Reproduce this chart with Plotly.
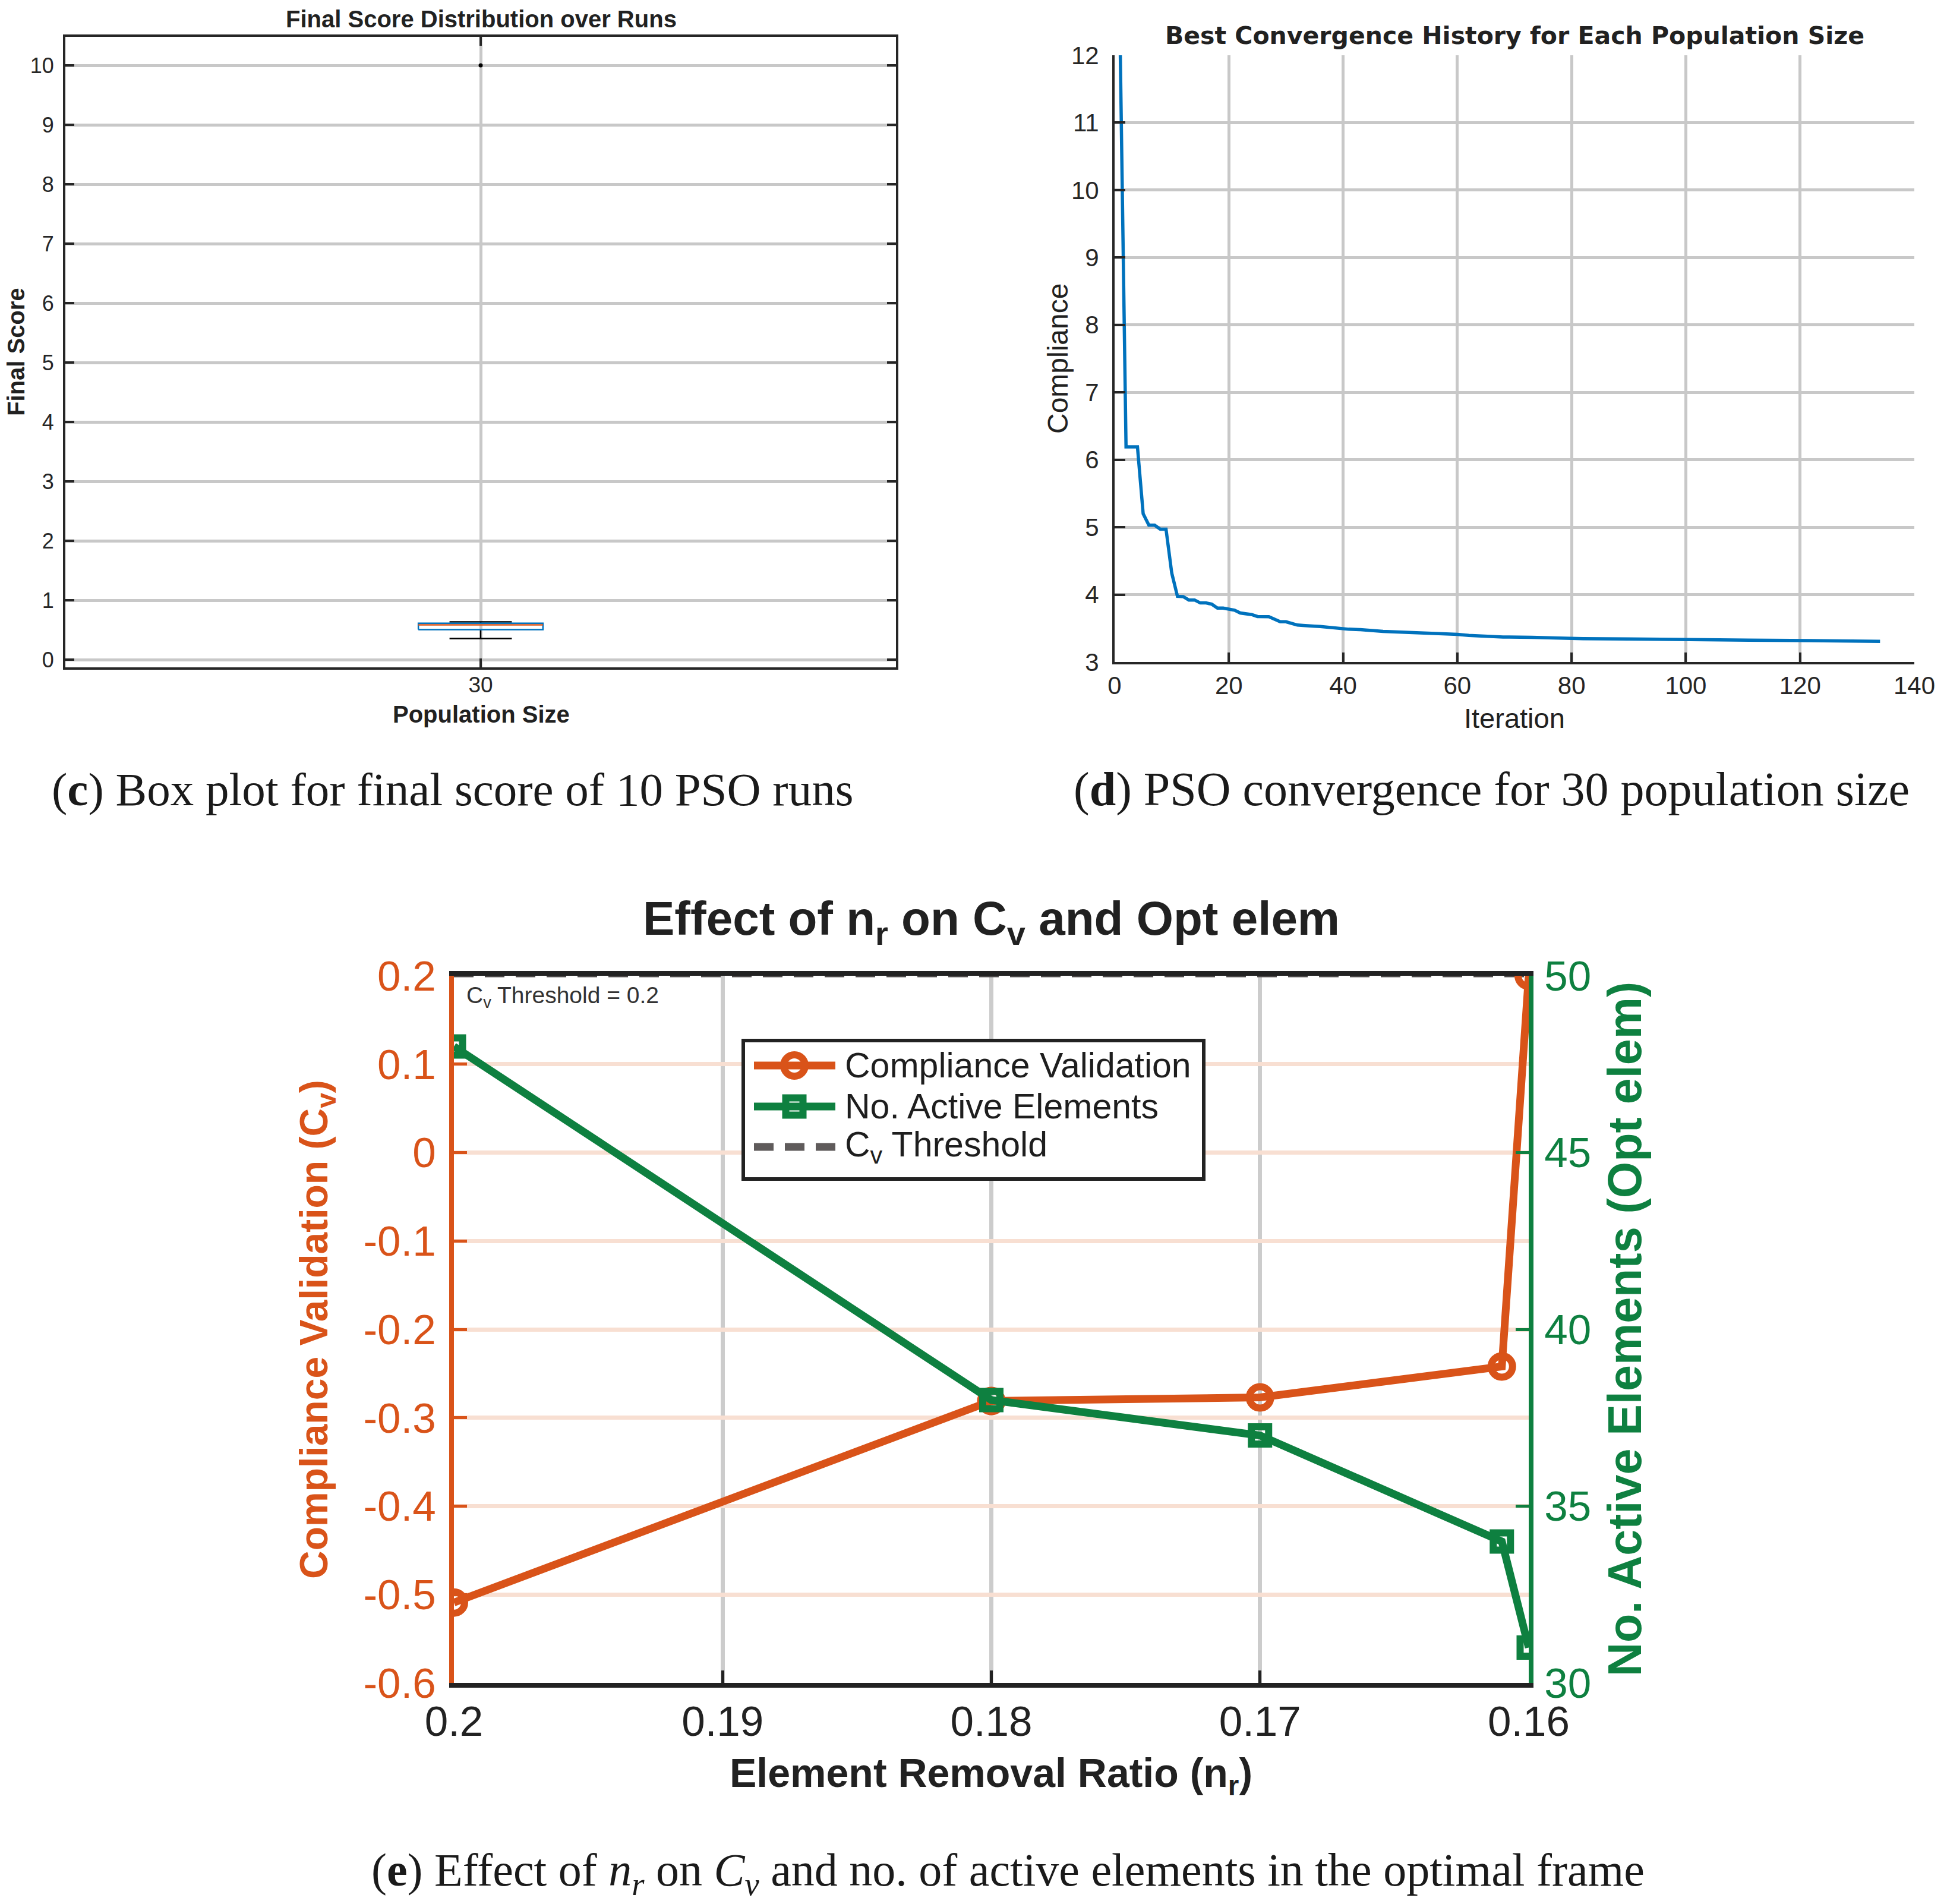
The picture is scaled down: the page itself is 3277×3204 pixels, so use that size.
import plotly.graph_objects as go

W, H = 3277, 3204


def fx(px):
    return px / W


def fy(py):
    return 1 - py / H


# ---------------- data ----------------
# (c) box plot of final scores (population size 30)
pop_labels = ["30"]
box_q1 = [0.51]
box_median = [0.59]
box_q3 = [0.617]
box_lower = [0.36]
box_upper = [0.64]
box_outliers = [10.0]

# (d) best convergence history (population 30)
conv_iter = [1, 2, 3, 4, 5, 6, 7, 8, 9, 10, 11, 12, 13, 14, 15, 16, 17, 18, 19, 20,
             21, 22, 23, 24, 25, 26, 27, 28, 29, 30, 31, 32, 33, 34, 35, 36, 37, 38, 39, 40,
             41, 43, 45, 46, 47, 51, 56, 60, 62, 65, 68, 73, 76, 82, 90, 95, 102, 111, 124, 134]
conv_value = [12.0, 6.19, 6.19, 6.19, 5.20, 5.03, 5.03, 4.97, 4.97, 4.32,
              3.975, 3.97, 3.92, 3.92, 3.876, 3.876, 3.858, 3.80, 3.80, 3.79,
              3.768, 3.727, 3.721, 3.703, 3.675, 3.675, 3.672, 3.635, 3.597, 3.597,
              3.573, 3.548, 3.542, 3.542, 3.532, 3.526, 3.517, 3.511, 3.505, 3.495,
              3.486, 3.48, 3.474, 3.461, 3.453, 3.441, 3.418, 3.41, 3.394, 3.38,
              3.371, 3.365, 3.356, 3.347, 3.341, 3.335, 3.329, 3.324, 3.315, 3.306]

# (e) effect of n_r
nr = [0.2, 0.18, 0.17, 0.161, 0.16]
cv = [-0.509, -0.281, -0.277, -0.242, 0.2]
active_elems = [48, 38, 37, 34, 31]
cv_threshold = 0.2
nr_ticks = [0.2, 0.19, 0.18, 0.17, 0.16]
nr_ticktext = ["0.2", "0.19", "0.18", "0.17", "0.16"]
cv_ticks = [0.2, 0.1, 0.0, -0.1, -0.2, -0.3, -0.4, -0.5, -0.6]
cv_ticktext = ["0.2", "0.1", "0", "-0.1", "-0.2", "-0.3", "-0.4", "-0.5", "-0.6"]
el_ticks = [30, 35, 40, 45, 50]

# ---------------- styles ----------------
SANS = "Liberation Sans, Arial, Helvetica, sans-serif"
WIDE = "DejaVu Sans, Liberation Sans, sans-serif"
SERIF = "Liberation Serif, Times New Roman, serif"
DARK = "#262626"
GRID = "#c8c8c8"
ORANGE = "#D95319"
GREEN = "#0E8040"
PEACH = "#f8dfd2"
BLUE = "#0072BD"

fig = go.Figure()

# ---------- (c) box plot built from the statistics ----------
pos = list(range(1, len(pop_labels) + 1))
bw = 0.075   # half box width (axis units)
cw = 0.0375  # half cap width
wx, wy = [], []
for p, lo, q1, q3, hi in zip(pos, box_lower, box_q1, box_q3, box_upper):
    wx += [p, p, None, p, p, None, p - cw, p + cw, None, p - cw, p + cw, None]
    wy += [q3, hi, None, q1, lo, None, hi, hi, None, lo, lo, None]
fig.add_trace(go.Scatter(x=wx, y=wy, mode="lines", line=dict(color="black", width=2.5),
                         xaxis="x", yaxis="y", showlegend=False, hoverinfo="skip"))
bx, by = [], []
for p, q1, q3 in zip(pos, box_q1, box_q3):
    bx += [p - bw, p + bw, p + bw, p - bw, p - bw, None]
    by += [q1, q1, q3, q3, q1, None]
fig.add_trace(go.Scatter(x=bx, y=by, mode="lines", line=dict(color=BLUE, width=2.5),
                         xaxis="x", yaxis="y", showlegend=False))
mx, my = [], []
for p, m in zip(pos, box_median):
    mx += [p - bw, p + bw, None]
    my += [m, m, None]
fig.add_trace(go.Scatter(x=mx, y=my, mode="lines", line=dict(color=ORANGE, width=2.5),
                         xaxis="x", yaxis="y", showlegend=False))
fig.add_trace(go.Scatter(x=[pos[0]] * len(box_outliers), y=box_outliers, mode="markers",
                         marker=dict(color="black", size=7), xaxis="x", yaxis="y",
                         showlegend=False, cliponaxis=False))

# ---------- (d) convergence ----------
fig.add_trace(go.Scatter(x=conv_iter, y=conv_value, mode="lines",
                         line=dict(color=BLUE, width=5.5), xaxis="x2", yaxis="y2",
                         showlegend=False))

# ---------- (e) effect of n_r ----------
fig.add_trace(go.Scatter(x=[nr_ticks[0], nr_ticks[-1]], y=[cv_threshold, cv_threshold],
                         mode="lines", line=dict(color="#4a4747", width=5, dash="33px,19px"),
                         xaxis="x3", yaxis="y3", showlegend=False))
fig.add_trace(go.Scatter(x=nr, y=cv, mode="lines+markers",
                         line=dict(color=ORANGE, width=13),
                         marker=dict(symbol="circle-open", size=36, color=ORANGE,
                                     line=dict(color=ORANGE, width=12)),
                         xaxis="x3", yaxis="y3", showlegend=False))
fig.add_trace(go.Scatter(x=nr, y=active_elems, mode="lines+markers",
                         line=dict(color=GREEN, width=13),
                         marker=dict(symbol="square-open", size=29, color=GREEN,
                                     line=dict(color=GREEN, width=12)),
                         xaxis="x3", yaxis="y4", showlegend=False))

common_box = dict(showline=True, linecolor=DARK, linewidth=4, ticks="inside",
                  tickcolor=DARK, tickwidth=4, showgrid=True, gridcolor=GRID,
                  gridwidth=4.5, zeroline=False, automargin=False)

fig.update_layout(
    template="none",
    width=W, height=H, margin=dict(l=0, r=0, t=0, b=0, pad=0, autoexpand=False),
    paper_bgcolor="white", plot_bgcolor="white", showlegend=False,
    xaxis=dict(domain=[fx(110), fx(1508)], range=[0.5, 1.5], tickvals=pos,
               ticktext=pop_labels, anchor="y", mirror="ticks", ticklen=15,
               tickfont=dict(family=SANS, size=37, color=DARK), ticklabelstandoff=-6,
               **common_box),
    yaxis=dict(domain=[fy(1123), fy(62)], range=[-0.125, 10.48], dtick=1, tick0=0,
               anchor="x", mirror="ticks", ticklen=15,
               tickfont=dict(family=SANS, size=36, color=DARK), ticklabelstandoff=8,
               **common_box),
    xaxis2=dict(domain=[fx(1876), fx(3222)], range=[0, 140], dtick=20, anchor="y2",
                ticklen=16, tickfont=dict(family=SANS, size=42, color=DARK),
                ticklabelstandoff=0, **common_box),
    yaxis2=dict(domain=[fy(1114), fy(93)], range=[3, 12], dtick=1, anchor="x2",
                ticklen=18, tickfont=dict(family=SANS, size=42, color=DARK),
                ticklabelstandoff=14, **common_box),
    xaxis3=dict(domain=[fx(764), fx(2573)], range=[nr_ticks[0], nr_ticks[-1]],
                tickvals=nr_ticks, ticktext=nr_ticktext, anchor="y3",
                showline=True, linecolor="#222222", linewidth=8, mirror=True,
                ticks="inside", ticklen=21, tickwidth=5, tickcolor="#222222",
                showgrid=True, gridcolor="#cccccc", gridwidth=7, zeroline=False,
                tickfont=dict(family=SANS, size=71, color="#222222"),
                ticklabelstandoff=-4, automargin=False),
    yaxis3=dict(domain=[fy(2832), fy(1642)], range=[cv_ticks[-1], cv_ticks[0]],
                tickvals=cv_ticks, ticktext=cv_ticktext, anchor="x3",
                showline=True, linecolor=ORANGE, linewidth=8,
                ticks="inside", ticklen=22, tickwidth=5, tickcolor=ORANGE,
                showgrid=True, gridcolor=PEACH, gridwidth=7, zeroline=False,
                tickfont=dict(family=SANS, size=71, color=ORANGE),
                ticklabelstandoff=8, automargin=False),
    yaxis4=dict(overlaying="y3", side="right", anchor="x3",
                range=[el_ticks[0], el_ticks[-1]], tickvals=el_ticks,
                showline=True, linecolor=GREEN, linewidth=8,
                ticks="inside", ticklen=22, tickwidth=5, tickcolor=GREEN,
                showgrid=False, zeroline=False,
                tickfont=dict(family=SANS, size=71, color=GREEN),
                ticklabelstandoff=4, automargin=False),
)

ann = []


def add_text(text, px, py, size, family=SANS, color=DARK, angle=0, xanchor="center",
             yanchor="middle"):
    ann.append(dict(text=text, x=fx(px), y=fy(py), xref="paper", yref="paper",
                    showarrow=False, font=dict(family=family, size=size, color=color),
                    textangle=angle, xanchor=xanchor, yanchor=yanchor))


# (c)
add_text("<b>Final Score Distribution over Runs</b>", 810, 32, 40, color="#212121")
add_text("<b>Final Score</b>", 27, 592, 40, color="#212121", angle=-90)
add_text("<b>Population Size</b>", 810, 1202, 40, color="#212121")
add_text("(<b>c</b>) Box plot for final score of 10 PSO runs", 761, 1328, 79,
         family=SERIF, color="#1a1a1a")
# (d)
add_text("<b>Best Convergence History for Each Population Size</b>", 2549, 60, 41,
         family=WIDE, color="#212121")
add_text("Compliance", 1780, 604, 48, color="#212121", angle=-90)
add_text("Iteration", 2549, 1208, 47, color="#212121")
add_text("(<b>d</b>) PSO convergence for 30 population size", 2510, 1328, 80,
         family=SERIF, color="#1a1a1a")
# (e)
add_text("<b>Effect of n<sub>r</sub> on C<sub>v</sub> and Opt elem</b>", 1668, 1551, 80,
         color="#212121")
add_text("<b>Compliance Validation (C<sub>v</sub>)</b>", 533, 2237, 66,
         color=ORANGE, angle=-90)
add_text("<b>No. Active Elements (Opt elem)</b>", 2734, 2237, 79,
         color=GREEN, angle=-90)
add_text("<b>Element Removal Ratio (n<sub>r</sub>)</b>", 1668, 2988, 68, color="#212121")
add_text("C<sub>v</sub> Threshold = 0.2", 783, 1678, 39, color="#333333", xanchor="left")
add_text("(<b>e</b>) Effect of <i>n<sub>r</sub></i> on <i>C<sub>v</sub></i> and no. of "
         "active elements in the optimal frame", 1697, 3152, 78, family=SERIF,
         color="#1a1a1a")

# legend (manual, to match the large line samples)
leg_rows = [("Compliance Validation", ORANGE, "circle", None),
            ("No. Active Elements", GREEN, "square", None),
            ("C<sub>v</sub> Threshold", "#5f5b5b", None, "33px,19px")]
shapes = [dict(type="rect", xref="paper", yref="paper", x0=fx(1251), x1=fx(2026),
               y0=fy(1984), y1=fy(1751), line=dict(color="#222222", width=6),
               fillcolor="white", layer="above")]
row_y = [1793, 1862, 1930]
for (label, col, sym, dash), ry in zip(leg_rows, row_y):
    shapes.append(dict(type="line", xref="paper", yref="paper", x0=fx(1269), x1=fx(1406),
                       y0=fy(ry), y1=fy(ry),
                       line=dict(color=col, width=13, dash=dash if dash else "solid"),
                       layer="above"))
    if sym == "circle":
        r = 18
        shapes.append(dict(type="circle", xref="paper", yref="paper",
                           x0=fx(1337 - r), x1=fx(1337 + r), y0=fy(ry + r), y1=fy(ry - r),
                           line=dict(color=col, width=12), fillcolor="rgba(0,0,0,0)",
                           layer="above"))
    elif sym == "square":
        r = 14.5
        shapes.append(dict(type="rect", xref="paper", yref="paper",
                           x0=fx(1337 - r), x1=fx(1337 + r), y0=fy(ry + r), y1=fy(ry - r),
                           line=dict(color=col, width=12), fillcolor="rgba(0,0,0,0)",
                           layer="above"))
    add_text(label, 1420, ry, 59, color="#1e1e1e", xanchor="left")

fig.update_layout(annotations=ann, shapes=shapes)
fig.write_html("out.html", config={"displayModeBar": False},
               post_script="document.body.style.margin='0px';")
